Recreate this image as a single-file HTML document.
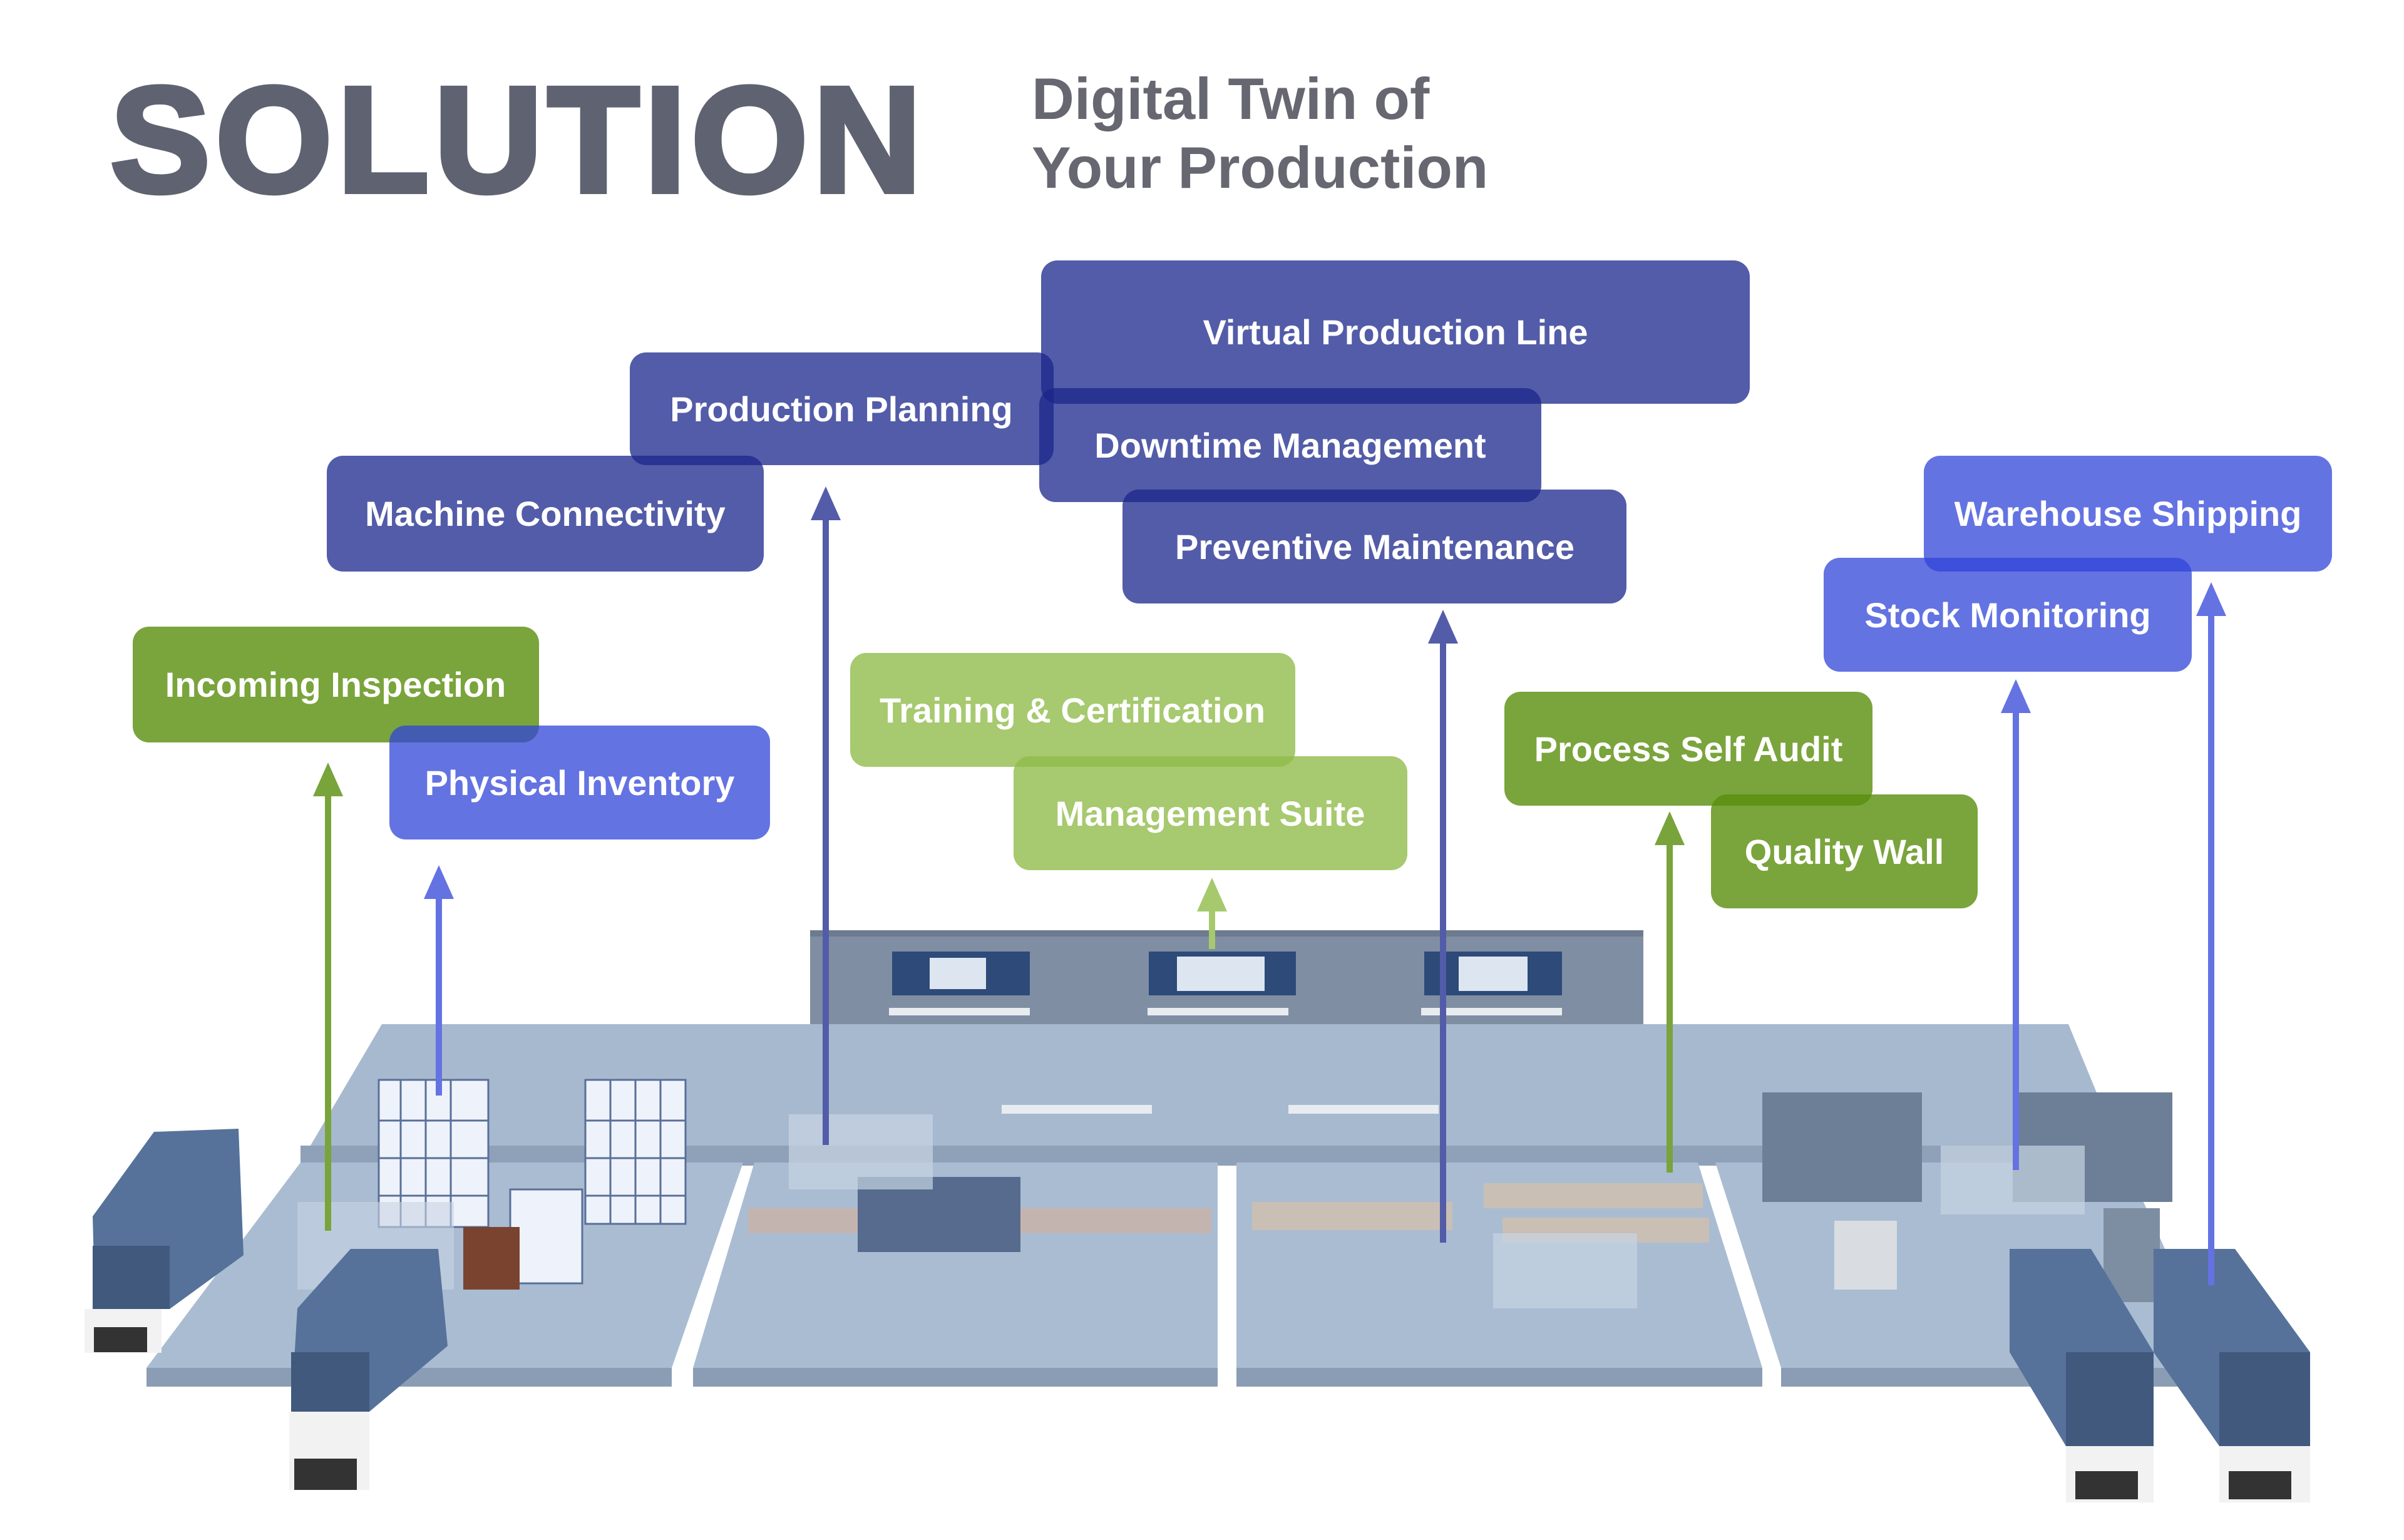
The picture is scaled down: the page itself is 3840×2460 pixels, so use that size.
<!DOCTYPE html>
<html><head><meta charset="utf-8"><style>
html,body{margin:0;padding:0;background:#fff;}
svg{display:block;}
</style></head><body>
<svg width="3840" height="2460" viewBox="0 0 3840 2460" xmlns="http://www.w3.org/2000/svg" font-family="Liberation Sans, sans-serif">
<rect width="3840" height="2460" fill="#fff"/>
<!-- Title -->
<text x="176" y="306" font-size="240" font-weight="bold" fill="#5f6270" stroke="#5f6270" stroke-width="8" letter-spacing="8">SOLUTION</text>
<text x="1648" y="190" font-size="94" font-weight="bold" fill="#666770">Digital Twin of</text>
<text x="1648" y="300" font-size="94" font-weight="bold" fill="#666770">Your Production</text>

<!-- Factory -->
<rect x="1294" y="1486" width="1331" height="160" fill="#7f8ea3"/>
<rect x="1294" y="1486" width="1331" height="10" fill="#6d7b8f"/>
<polygon points="610,1636 3304,1636 3395,1857 480,1857" fill="#a7b9cf"/>
<polygon points="480,1830 3395,1830 3395,1862 480,1862" fill="#8fa1b8"/>
<!-- slabs -->
<polygon points="480,1857 1187,1857 1073,2185 234,2185" fill="#a9bcd2"/>
<polygon points="234,2185 1073,2185 1073,2215 234,2215" fill="#8b9db4"/>
<polygon points="1205,1857 1945,1857 1945,2185 1107,2185" fill="#a9bcd2"/>
<polygon points="1107,2185 1945,2185 1945,2215 1107,2215" fill="#8b9db4"/>
<polygon points="1975,1857 2712,1857 2815,2185 1975,2185" fill="#a9bcd2"/>
<polygon points="1975,2185 2815,2185 2815,2215 1975,2215" fill="#8b9db4"/>
<polygon points="2740,1857 3395,1857 3545,2185 2845,2185" fill="#a9bcd2"/>
<polygon points="2845,2185 3545,2185 3545,2215 2845,2215" fill="#8b9db4"/>
<!-- monitors -->
<g fill="#2d4a78"><rect x="1425" y="1520" width="220" height="70"/><rect x="1835" y="1520" width="235" height="70"/><rect x="2275" y="1520" width="220" height="70"/></g>
<g fill="#dde6f0"><rect x="1485" y="1530" width="90" height="50"/><rect x="1880" y="1528" width="140" height="55"/><rect x="2330" y="1528" width="110" height="55"/></g>
<g fill="#e8ecf0"><rect x="1420" y="1610" width="225" height="12"/><rect x="1833" y="1610" width="225" height="12"/><rect x="2270" y="1610" width="225" height="12"/><rect x="1600" y="1765" width="240" height="14"/><rect x="2058" y="1765" width="240" height="14"/></g>
<!-- pallets white -->
<rect x="605" y="1725" width="175" height="235" fill="#eef3fb" stroke="#5a6f99" stroke-width="3"/>
<rect x="935" y="1725" width="160" height="230" fill="#eef3fb" stroke="#5a6f99" stroke-width="3"/>
<rect x="815" y="1900" width="115" height="150" fill="#eef3fb" stroke="#5a6f99" stroke-width="3"/>
<g stroke="#5a6f99" stroke-width="3"><line x1="640" y1="1725" x2="640" y2="1960"/><line x1="680" y1="1725" x2="680" y2="1960"/><line x1="720" y1="1725" x2="720" y2="1960"/><line x1="605" y1="1790" x2="780" y2="1790"/><line x1="605" y1="1850" x2="780" y2="1850"/><line x1="605" y1="1910" x2="780" y2="1910"/><line x1="975" y1="1725" x2="975" y2="1955"/><line x1="1015" y1="1725" x2="1015" y2="1955"/><line x1="1055" y1="1725" x2="1055" y2="1955"/><line x1="935" y1="1790" x2="1095" y2="1790"/><line x1="935" y1="1850" x2="1095" y2="1850"/><line x1="935" y1="1910" x2="1095" y2="1910"/></g>
<rect x="740" y="1960" width="90" height="100" fill="#7a4330"/>
<!-- gray stacks -->
<rect x="2815" y="1745" width="255" height="175" fill="#6d7f97"/>
<rect x="3215" y="1745" width="255" height="175" fill="#6d7f97"/>
<rect x="3360" y="1930" width="90" height="150" fill="#7d8da2"/>
<rect x="2930" y="1950" width="100" height="110" fill="#d9dde2"/>
<!-- conveyors -->
<rect x="1195" y="1930" width="740" height="40" fill="#c4b4b0"/>
<rect x="1370" y="1880" width="260" height="120" fill="#566b8d"/>
<rect x="2000" y="1920" width="320" height="45" fill="#c9bfb5"/>
<rect x="2370" y="1890" width="350" height="40" fill="#c9bfb5"/>
<rect x="2400" y="1945" width="330" height="40" fill="#c9bfb5"/>
<rect x="1260" y="1780" width="230" height="120" fill="#c8d4e2" opacity="0.7"/>
<rect x="2385" y="1970" width="230" height="120" fill="#c8d4e2" opacity="0.7"/>
<rect x="3100" y="1830" width="230" height="110" fill="#c8d4e2" opacity="0.7"/>
<rect x="475" y="1920" width="250" height="140" fill="#c8d4e2" opacity="0.6"/>
<!-- trucks -->
<polygon points="148,1943 246,1808 381,1803 389,2005 271,2091 152,2091" fill="#56729a"/>
<rect x="148" y="1990" width="123" height="101" fill="#40597d"/>
<rect x="135" y="2091" width="123" height="70" fill="#f2f2f2"/>
<rect x="150" y="2120" width="85" height="40" fill="#333"/>
<polygon points="475,2090 560,1995 700,1995 715,2150 590,2255 465,2255" fill="#56729a"/>
<rect x="465" y="2160" width="125" height="95" fill="#40597d"/>
<rect x="462" y="2255" width="128" height="125" fill="#f2f2f2"/>
<rect x="470" y="2330" width="100" height="50" fill="#333"/>
<polygon points="3210,1995 3340,1995 3440,2160 3440,2310 3300,2310 3210,2160" fill="#56729a"/>
<rect x="3300" y="2160" width="140" height="150" fill="#40597d"/>
<rect x="3300" y="2310" width="140" height="90" fill="#f2f2f2"/>
<rect x="3315" y="2350" width="100" height="45" fill="#333"/>
<polygon points="3440,1995 3570,1995 3690,2160 3690,2310 3545,2310 3440,2160" fill="#56729a"/>
<rect x="3545" y="2160" width="145" height="150" fill="#40597d"/>
<rect x="3545" y="2310" width="145" height="90" fill="#f2f2f2"/>
<rect x="3560" y="2350" width="100" height="45" fill="#333"/>

<!-- Arrows -->
<g stroke-width="10">
<line x1="524" y1="1260" x2="524" y2="1966" stroke="#79a33b"/>
<line x1="701" y1="1425" x2="701" y2="1750" stroke="#6472e2"/>
<line x1="1319" y1="820" x2="1319" y2="1829" stroke="#535ca8"/>
<line x1="1936" y1="1445" x2="1936" y2="1516" stroke="#a6c96d"/>
<line x1="2305" y1="1017" x2="2305" y2="1985" stroke="#535ca8"/>
<line x1="2667" y1="1340" x2="2667" y2="1873" stroke="#79a33b"/>
<line x1="3220" y1="1128" x2="3220" y2="1869" stroke="#6472e2"/>
<line x1="3532" y1="973" x2="3532" y2="2053" stroke="#6472e2"/>
</g>
<polygon points="524,1218 500,1272 548,1272" fill="#79a33b"/>
<polygon points="701,1382 677,1436 725,1436" fill="#6472e2"/>
<polygon points="1319,777 1295,831 1343,831" fill="#535ca8"/>
<polygon points="1936,1402 1912,1456 1960,1456" fill="#a6c96d"/>
<polygon points="2305,974 2281,1028 2329,1028" fill="#535ca8"/>
<polygon points="2667,1296 2643,1350 2691,1350" fill="#79a33b"/>
<polygon points="3220,1085 3196,1139 3244,1139" fill="#6472e2"/>
<polygon points="3532,930 3508,984 3556,984" fill="#6472e2"/>

<!-- Boxes -->
<g font-size="56" font-weight="bold" fill="#fff" text-anchor="middle">
<rect x="1663" y="416" width="1132" height="229" rx="26" fill="rgb(26,38,139)" fill-opacity="0.75"/>
<text x="2229" y="550">Virtual Production Line</text>
<rect x="1006" y="563" width="677" height="180" rx="26" fill="rgb(26,38,139)" fill-opacity="0.75"/>
<text x="1344" y="673">Production Planning</text>
<rect x="1660" y="620" width="802" height="182" rx="26" fill="rgb(26,38,139)" fill-opacity="0.75"/>
<text x="2061" y="731">Downtime Management</text>
<rect x="1793" y="782" width="805" height="182" rx="26" fill="rgb(26,38,139)" fill-opacity="0.75"/>
<text x="2196" y="893">Preventive Maintenance</text>
<rect x="522" y="728" width="698" height="185" rx="26" fill="rgb(26,38,139)" fill-opacity="0.75"/>
<text x="871" y="840">Machine Connectivity</text>
<rect x="3073" y="728" width="652" height="185" rx="26" fill="rgb(48,68,216)" fill-opacity="0.75"/>
<text x="3399" y="840">Warehouse Shipping</text>
<rect x="2913" y="891" width="588" height="182" rx="26" fill="rgb(48,68,216)" fill-opacity="0.75"/>
<text x="3207" y="1002">Stock Monitoring</text>
<rect x="212" y="1001" width="649" height="185" rx="26" fill="rgb(89,141,11)" fill-opacity="0.8"/>
<text x="536" y="1113">Incoming Inspection</text>
<rect x="622" y="1159" width="608" height="182" rx="26" fill="rgb(48,68,216)" fill-opacity="0.75"/>
<text x="926" y="1270">Physical Inventory</text>
<rect x="1358" y="1043" width="711" height="182" rx="26" fill="rgb(145,188,75)" fill-opacity="0.8"/>
<text x="1713" y="1154">Training &amp; Certification</text>
<rect x="1619" y="1208" width="629" height="182" rx="26" fill="rgb(145,188,75)" fill-opacity="0.8"/>
<text x="1933" y="1319">Management Suite</text>
<rect x="2403" y="1105" width="588" height="182" rx="26" fill="rgb(89,141,11)" fill-opacity="0.8"/>
<text x="2697" y="1216">Process Self Audit</text>
<rect x="2733" y="1269" width="426" height="182" rx="26" fill="rgb(89,141,11)" fill-opacity="0.8"/>
<text x="2946" y="1380">Quality Wall</text>
</g>
</svg>
</body></html>
